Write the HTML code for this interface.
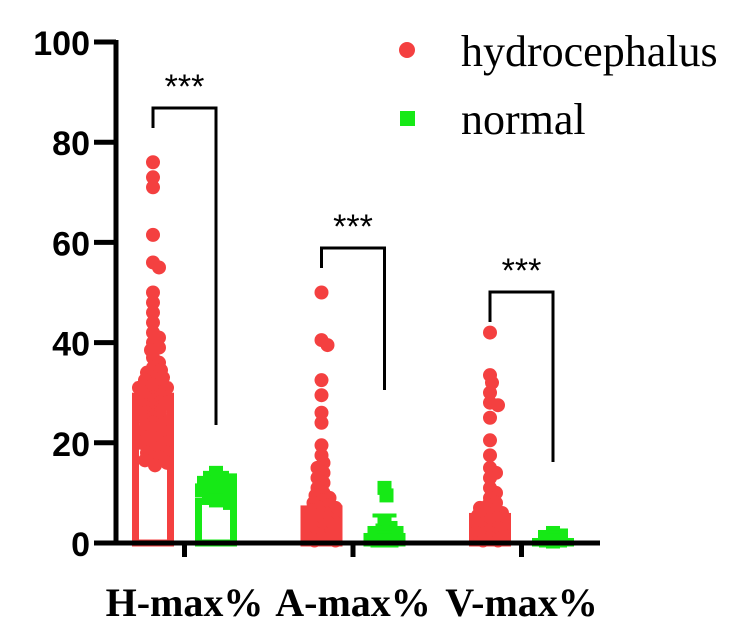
<!DOCTYPE html>
<html><head><meta charset="utf-8">
<style>
html,body{margin:0;padding:0;background:#fff;}
svg{display:block;}
.yt{font-family:"Liberation Sans",sans-serif;font-weight:bold;font-size:34px;}
.xt{font-family:"Liberation Serif",serif;font-weight:bold;font-size:40px;}
.lg{font-family:"Liberation Serif",serif;font-size:44px;}
.st{font-family:"Liberation Sans",sans-serif;font-size:34px;}
</style></head>
<body>
<svg id="chart" width="744" height="626" viewBox="0 0 744 626">
<g id="plot"></g>
</svg>
<script>
const categories = ["H-max%", "A-max%", "V-max%"];
const yTicks = [0, 20, 40, 60, 80, 100];
const hydroMeans = [30, 7.5, 6];
const normalMeans = [9, 2, 1];
const normalErr = [null, 5.5, null];
const hydroH = [76,73,71,61.5,56,55,50,48,46,44,42,41,40,39,38.5,37,36,35,34.5,34,33,32.5,32,31.5,31,30.5,30,29.5,29,28.5,28,27.5,27,26.5,26,25.5,25,24.5,24,23.5,23,22.5,22,21,20,19,18,17,16,15.5,33,31,29,27,25,23,21,28,26,24,30,32,22,20,18,26,24,28,29,27,25,23,21,19,30,28,26,24,22,20,29.5,27.5,25.5,23.5,21.5,19.5,17,16.5];
const normH = [14,13,12.5,12,11.5,11,10.5,10,9.5,9,8.5,8,12,11,10,9,13,10.5];
const hydroA = [50,40.5,39.5,32.5,29.5,26,24,19.5,17.5,16,15,14,13,12,11,10,9.5,9,8.5,8,7.5,7,6.5,6,5.5,5,4.5,4,3.5,3,2.5,2,1.5,1,0.5,6,4,2,5,3,1,7,5.5,3.5,1.5,0.5];
const normA = [11,9.5,4,3,2.5,2,1.5,1,0.5,2,1,0.5,2,1.5,1,0.5];
const hydroV = [42,33.5,32,30,28,27.5,25,20.5,17.5,15,14,13,11,10,9,8,7.5,7,6.5,6,5.5,5,4.5,4,3.5,3,2.5,2,1.5,1,0.5,5,3,1,4,2,6,4.5,2.5,0.5];
const normV = [2,1.5,1,1,0.5,0.5,0.3,1.2,1,0.5,0.8];
const pValues = ["***","***","***"];

const NS="http://www.w3.org/2000/svg";
const plot=document.getElementById('plot');
const y0=543, pxPerUnit=5.01, xAxisStart=116, xAxisEnd=600;
function yS(v){return y0 - v*pxPerUnit;}
function groupX(i,isNormal){return 153 + i*168.5 + (isNormal?63:0);}
function mk(tag,attrs){const e=document.createElementNS(NS,tag);for(const k in attrs)e.setAttribute(k,attrs[k]);return e;}

const red="#f44040", green="#16e916";

function drawBar(cx,mean,color,name){
  const w=42, h=y0-yS(mean);
  const r=mk('rect',{x:cx-w/2+3.5,y:yS(mean)+3.5,width:w-7,height:Math.max(h-3.5,0),fill:'none',stroke:color,'stroke-width':7});
  
  
  plot.appendChild(r);
}
function swarm(cx,vals,color,shape,name){
  const r=7, placed=[];
  const sorted=vals.slice().sort((a,b)=>b-a);
  sorted.forEach(v=>{
    const py=yS(v);
    let off=0;
    for(let k=0;k<30;k++){
      const cand=(k===0)?0:((k%2?1:-1)*Math.ceil(k/2)*2);
      if(Math.abs(cand)>14){off=((placed.length%3)-1)*7;break;}
      if(placed.every(p=>Math.hypot(p[0]-(cx+cand),p[1]-py)>=r*1.1)){off=cand;break;}
    }
    placed.push([cx+off,py]);
    let e;
    if(shape==='c') e=mk('circle',{cx:cx+off,cy:py,r:r,fill:color});
    else e=mk('rect',{x:cx+off-7,y:py-7,width:14,height:14,fill:color});
    
    
    plot.appendChild(e);
  });
}
const hydroSets=[hydroH,hydroA,hydroV], normSets=[normH,normA,normV];
for(let i=0;i<3;i++){
  drawBar(groupX(i,false),hydroMeans[i],red,'hydro-bar-'+i);
  drawBar(groupX(i,true),normalMeans[i],green,'normal-bar-'+i);
  swarm(groupX(i,false),hydroSets[i],red,'c','hydro-point');
  swarm(groupX(i,true),normSets[i],green,'s','normal-point');
  if(normalErr[i]!==null){
    const cx=groupX(i,true);
    const l=mk('line',{x1:cx-12,x2:cx+12,y1:yS(normalErr[i]),y2:yS(normalErr[i]),stroke:green,'stroke-width':4});
    
    
    plot.appendChild(l);
  }
}
const brTop=[108,248,292], brLeft=[128,268,322], brRight=[425,390,462];
for(let i=0;i<3;i++){
  const xl=groupX(i,false), xr=groupX(i,true);
  const p=mk('path',{d:`M${xl},${brLeft[i]} V${brTop[i]} H${xr} V${brRight[i]}`,fill:'none',stroke:'#000','stroke-width':3});
  
  
  plot.appendChild(p);
  const t=mk('text',{x:(xl+xr)/2,y:brTop[i]-10,'text-anchor':'middle','class':'st'});
  t.textContent=pValues[i];
  
  
  plot.appendChild(t);
}
const ya=mk('line',{x1:xAxisStart,x2:xAxisStart,y1:yS(100)-2,y2:y0+2,stroke:'#000','stroke-width':5});
  plot.appendChild(ya);
const xa=mk('line',{x1:xAxisStart-2,x2:xAxisEnd,y1:y0,y2:y0,stroke:'#000','stroke-width':5});
  plot.appendChild(xa);
yTicks.forEach(v=>{
  const l=mk('line',{x1:xAxisStart-22,x2:xAxisStart,y1:yS(v),y2:yS(v),stroke:'#000','stroke-width':5});
    plot.appendChild(l);
  const t=mk('text',{x:xAxisStart-26,y:yS(v)+13,'text-anchor':'end','class':'yt'});
  t.textContent=v;
    plot.appendChild(t);
});
categories.forEach((c,i)=>{
  const cx=(groupX(i,false)+groupX(i,true))/2;
  const l=mk('line',{x1:cx,x2:cx,y1:y0,y2:y0+14,stroke:'#000','stroke-width':5});
    plot.appendChild(l);
  const t=mk('text',{x:cx,y:616,'text-anchor':'middle','class':'xt'});
  t.textContent=c;
    plot.appendChild(t);
});
</script>
<script>
(function(){
  const svg=document.getElementById('chart');
  const NS="http://www.w3.org/2000/svg";
  const g=document.createElementNS(NS,'g');
  
  
  g.innerHTML='<circle cx="407" cy="50" r="8" fill="#f44040"/>'+
  '<text x="461" y="66" class="lg">hydrocephalus</text>'+
  '<rect x="400" y="111" width="15" height="15" fill="#16e916"/>'+
  '<text x="461" y="134" class="lg">normal</text>';
  svg.appendChild(g);
})();
</script>
</body></html>
